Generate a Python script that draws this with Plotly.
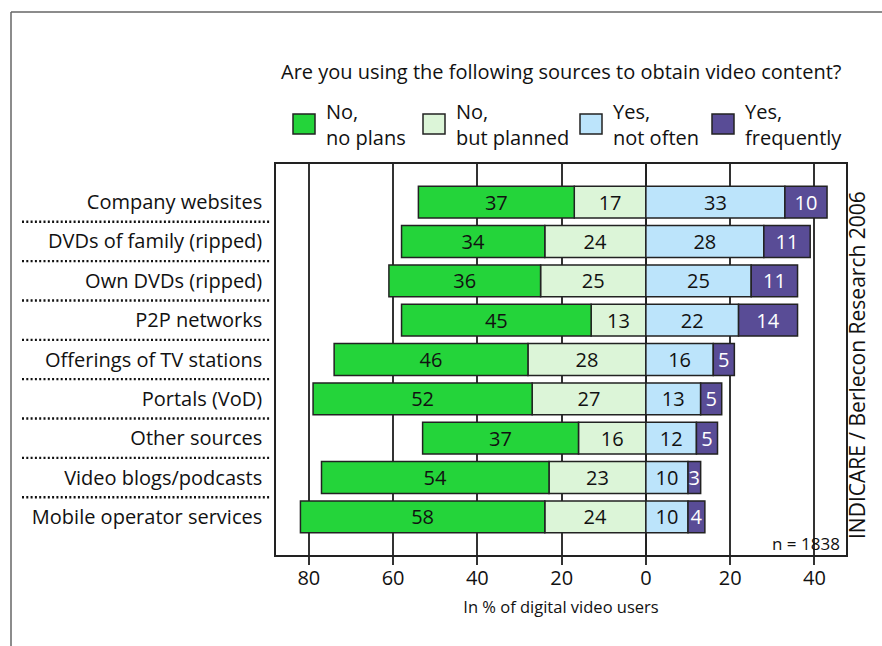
import plotly.graph_objects as go

# Survey categories (top to bottom)
categories = [
    "Company websites",
    "DVDs of family (ripped)",
    "Own DVDs (ripped)",
    "P2P networks",
    "Offerings of TV stations",
    "Portals (VoD)",
    "Other sources",
    "Video blogs/podcasts",
    "Mobile operator services",
]

# Shares in % of digital video users
no_plans = [37, 34, 36, 45, 46, 52, 37, 54, 58]
no_but_planned = [17, 24, 25, 13, 28, 27, 16, 23, 24]
yes_not_often = [33, 28, 25, 22, 16, 13, 12, 10, 10]
yes_frequently = [10, 11, 11, 14, 5, 5, 5, 3, 4]

series_names = ["No,<br>no plans", "No,<br>but planned", "Yes,<br>not often", "Yes,<br>frequently"]
tick_values = [-80, -60, -40, -20, 0, 20, 40]
tick_labels = ["80", "60", "40", "20", "0", "20", "40"]

FONT = "Open Sans"
INK = "#111111"
C_NO = "#24D43A"
C_NO_PLAN = "#DCF5D8"
C_YES_RARE = "#BCE4FB"
C_YES_FREQ = "#594C96"
OUTLINE = "#222222"

fig = go.Figure()


def add_bars(values, sign, color, text_color):
    fig.add_trace(go.Bar(
        y=categories,
        x=[sign * v for v in values],
        orientation="h",
        width=0.81,
        marker=dict(color=color, line=dict(color=OUTLINE, width=1.5)),
        text=[str(v) for v in values],
        textposition="inside",
        insidetextanchor="middle",
        textangle=0,
        textfont=dict(family=FONT, size=20, color=text_color),
        showlegend=False,
        hoverinfo="skip",
    ))


# Negative side stacks outward from zero: planned first, then no plans
add_bars(no_but_planned, -1, C_NO_PLAN, INK)
add_bars(no_plans, -1, C_NO, INK)
add_bars(yes_not_often, 1, C_YES_RARE, INK)
add_bars(yes_frequently, 1, C_YES_FREQ, "#FFFFFF")

L, R, T, B = 276, 36, 164, 91
W, H = 882, 646
plot_w = W - L - R
plot_h = H - T - B


def px_to_paper(px, py):
    return (px - L) / plot_w, (H - B - py) / plot_h


shapes = []
# Dotted separators between category labels
x0 = (22 - L) / plot_w
x1 = (270 - L) / plot_w
for k in range(len(categories) - 1):
    shapes.append(dict(
        type="line", xref="paper", yref="y",
        x0=x0, x1=x1, y0=k + 0.5, y1=k + 0.5,
        line=dict(color=INK, width=2.4, dash="2px,2.3px"),
        layer="above",
    ))

# Outer frame lines (top and left)
fx0, fy0 = px_to_paper(11, 12)
fx1, _ = px_to_paper(W, 12)
_, fy1 = px_to_paper(11, H)
shapes.append(dict(type="line", xref="paper", yref="paper",
                   x0=fx0, x1=fx1, y0=fy0, y1=fy0,
                   line=dict(color="#666666", width=1.5)))
shapes.append(dict(type="line", xref="paper", yref="paper",
                   x0=fx0, x1=fx0, y0=fy0, y1=fy1,
                   line=dict(color="#666666", width=1.5)))

annotations = []

# Question heading
hx, hy = px_to_paper(561, 72)
annotations.append(dict(
    xref="paper", yref="paper", x=hx, y=hy, xanchor="center", yanchor="middle",
    text="Are you using the following sources to obtain video content?",
    showarrow=False, font=dict(family=FONT, size=20, color=INK),
))

# Custom legend
legend_items = [
    (293, C_NO, series_names[0]),
    (423, C_NO_PLAN, series_names[1]),
    (580, C_YES_RARE, series_names[2]),
    (712, C_YES_FREQ, series_names[3]),
]
for lx, col, name in legend_items:
    ax0, ay0 = px_to_paper(lx, 134)
    ax1, ay1 = px_to_paper(lx + 22, 114)
    shapes.append(dict(type="rect", xref="paper", yref="paper",
                       x0=ax0, x1=ax1, y0=ay0, y1=ay1,
                       fillcolor=col, line=dict(color=OUTLINE, width=1.5)))
    tx, ty = px_to_paper(lx + 31, 124)
    annotations.append(dict(
        xref="paper", yref="paper", x=tx, y=ty, xanchor="left", yanchor="middle",
        text=name, align="left", showarrow=False,
        font=dict(family=FONT, size=20, color=INK),
    ))

# Source note, rotated along the right side
sx, sy = px_to_paper(857, 365)
annotations.append(dict(
    xref="paper", yref="paper", x=sx, y=sy, xanchor="center", yanchor="middle",
    text="INDICARE / Berlecon Research 2006", textangle=-90, showarrow=False,
    font=dict(family=FONT, size=21, color=INK),
))

# Sample size
nx, ny = px_to_paper(842, 543)
annotations.append(dict(
    xref="paper", yref="paper", x=nx, y=ny, xanchor="right", yanchor="middle",
    text="n = 1838", showarrow=False,
    font=dict(family=FONT, size=17, color=INK),
))

fig.update_layout(
    width=W, height=H,
    margin=dict(l=L, r=R, t=T, b=B, pad=0),
    barmode="relative",
    plot_bgcolor="white",
    paper_bgcolor="white",
    font=dict(family=FONT, color=INK),
    uniformtext=dict(minsize=20, mode="show"),
    shapes=shapes,
    annotations=annotations,
    xaxis=dict(
        range=[-87.8, 47.5],
        tickvals=tick_values,
        ticktext=tick_labels,
        tickfont=dict(family=FONT, size=20, color=INK),
        ticks="outside", ticklen=8, tickwidth=1.5, tickcolor="#333333",
        ticklabelstandoff=-4,
        showgrid=True, gridcolor="#333333", gridwidth=1.5,
        zeroline=True, zerolinecolor="#222222", zerolinewidth=2,
        showline=True, linecolor="#222222", linewidth=1.5, mirror=True,
        title=dict(text="In % of digital video users",
                   font=dict(family=FONT, size=16.5, color=INK), standoff=12),
        fixedrange=True,
    ),
    yaxis=dict(
        categoryorder="array", categoryarray=categories,
        autorange=False, range=[8.97, -0.97],
        tickfont=dict(family=FONT, size=20, color=INK),
        ticks="", showgrid=False, zeroline=False,
        showline=True, linecolor="#222222", linewidth=1.5, mirror=True,
        ticklabelstandoff=8,
        fixedrange=True,
    ),
)

fig.write_html("out.html")
